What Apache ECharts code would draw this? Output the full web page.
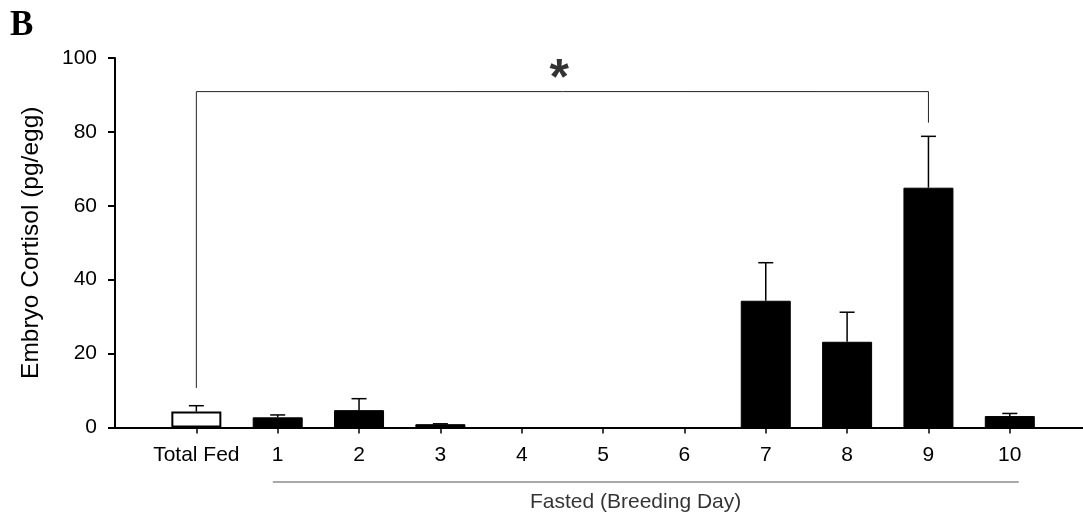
<!DOCTYPE html>
<html>
<head>
<meta charset="utf-8">
<script src="https://cdn.jsdelivr.net/npm/echarts@6/dist/echarts.min.js"></script>
<style>
html,body{margin:0;padding:0;background:#fff;}
#chart{width:1083px;height:518px;}
</style>
</head>
<body>
<div id="chart"></div>
<script>
// ---- data ----
const categories = ['Total Fed', '1', '2', '3', '4', '5', '6', '7', '8', '9', '10'];
const categoryPos = [0, 1, 2, 3, 4, 5, 6, 7, 8, 9, 10];
const means = [4.3, 2.75, 4.7, 0.9, 0, 0, 0, 34.3, 23.2, 64.9, 3.1];
const errorTops = [5.9, 3.4, 7.8, 1.0, 0, 0, 0, 44.6, 31.2, 78.8, 3.8];
const yTicks = [0, 20, 40, 60, 80, 100];
const bracketPoints = [[0, 10.7], [0, 90.9], [9, 90.9], [9, 82.5]];
const fastedLinePoints = [[0.94, -14.75], [10.11, -14.75]];
const starAnnotation = [[4.46, 94.0]];
const starText = '*';
const fastedText = 'Fasted (Breeding Day)';
const fastedTextPos = [[5.4, -20.3]];
const yAxisTitle = 'Embryo Cortisol (pg/egg)';
const panelLetter = 'B';

const FONT = '"Liberation Sans", Arial, sans-serif';

const barData = categoryPos.map((x, i) => ({
  value: [x, means[i]],
  itemStyle: i === 0
    ? { color: '#ffffff', borderColor: '#000000', borderWidth: 2 }
    : { color: '#000000', borderColor: '#000000', borderWidth: 1 }
}));
const errData = categoryPos.map((x, i) => [x, means[i], errorTops[i]]);

const chart = echarts.init(document.getElementById('chart'), null, { renderer: 'canvas' });
chart.setOption({
  animation: false,
  backgroundColor: '#ffffff',
  title: {
    text: panelLetter,
    left: 5,
    top: 3,
    textStyle: { fontFamily: '"Liberation Serif", "Times New Roman", serif', fontWeight: 'bold', fontSize: 35, color: '#000' }
  },
  grid: { left: 115, right: 0, top: 58, bottom: 90.5, containLabel: false, outerBoundsMode: 'none' },
  xAxis: {
    type: 'value',
    min: -1,
    max: 10.9,
    interval: 1,
    splitLine: { show: false },
    axisLine: { show: true, onZero: true, lineStyle: { color: '#000', width: 2 } },
    axisTick: { show: true, length: 6, inside: false, customValues: categoryPos, lineStyle: { color: '#000', width: 1.5 } },
    axisLabel: {
      show: true,
      customValues: categoryPos,
      margin: 17,
      fontFamily: FONT,
      fontSize: 21,
      color: '#000',
      formatter: v => categories[Math.round(v)] ?? ''
    }
  },
  yAxis: {
    type: 'value',
    min: yTicks[0],
    max: yTicks[yTicks.length - 1],
    interval: yTicks[1] - yTicks[0],
    splitLine: { show: false },
    axisLine: { show: true, onZero: false, lineStyle: { color: '#000', width: 2 } },
    axisTick: { show: true, length: 7, lineStyle: { color: '#000', width: 2 } },
    axisLabel: { margin: 18, fontFamily: FONT, fontSize: 21, color: '#000' },
    name: yAxisTitle,
    nameLocation: 'middle',
    nameGap: 71,
    nameTextStyle: { fontFamily: FONT, fontSize: 24.5, color: '#000' }
  },
  series: [
    {
      type: 'bar',
      data: barData,
      barWidth: 50,
      z: 2
    },
    {
      type: 'custom',
      data: errData,
      z: 3,
      renderItem: function (params, api) {
        const x = api.value(0), y = api.value(1), top = api.value(2);
        if (!(top > y)) return null;
        const p0 = api.coord([x, y]);
        const p1 = api.coord([x, top]);
        const half = 7.5;
        return {
          type: 'group',
          children: [
            { type: 'line', shape: { x1: p0[0], y1: p0[1], x2: p1[0], y2: p1[1] }, style: { stroke: '#000', lineWidth: 1.5 } },
            { type: 'line', shape: { x1: p1[0] - half, y1: p1[1], x2: p1[0] + half, y2: p1[1] }, style: { stroke: '#000', lineWidth: 1.5 } }
          ]
        };
      }
    },
    {
      type: 'line',
      data: bracketPoints,
      symbol: 'none',
      lineStyle: { color: '#222', width: 1 },
      z: 4
    },
    {
      type: 'line',
      data: fastedLinePoints,
      symbol: 'none',
      clip: false,
      lineStyle: { color: '#555', width: 1.2 },
      z: 4
    },
    {
      type: 'scatter',
      data: starAnnotation,
      symbolSize: 0,
      label: { show: true, position: 'inside', formatter: starText, fontFamily: FONT, fontWeight: 'bold', fontSize: 50, color: '#000' },
      z: 5
    },
    {
      type: 'scatter',
      data: fastedTextPos,
      symbolSize: 0,
      clip: false,
      label: { show: true, position: 'inside', formatter: fastedText, fontFamily: FONT, fontSize: 21, color: '#000' },
      z: 5
    }
  ]
});
</script>
</body>
</html>
